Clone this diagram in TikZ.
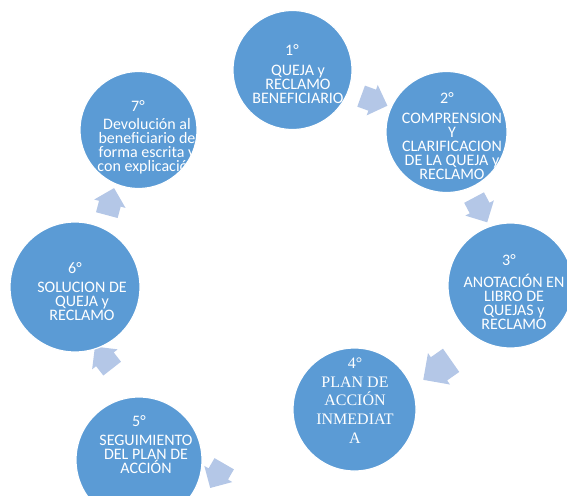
\documentclass[tikz,border=0pt]{standalone}
\usepackage{fontspec}
\setmainfont{Carlito}
\newfontfamily\timesfont{Liberation Serif}
\usetikzlibrary{shapes.arrows}
\definecolor{circblue}{HTML}{5B9BD5}
\definecolor{arrblue}{HTML}{B4C7E7}
\begin{document}
\begin{tikzpicture}[x=1pt,y=-1pt,
  stepcirc/.style={circle, fill=circblue, draw=white, line width=1.2pt, inner sep=0pt},
  cyclearrow/.style={single arrow, fill=arrblue, draw=none, inner sep=0pt,
    text height=22pt, text depth=0pt, text width=0pt,
    single arrow head extend=5pt, single arrow tip angle=90,
    minimum height=28pt},
  bigarrow/.style={text height=28pt, single arrow head extend=5pt, minimum height=34pt},
  steptitle/.style={text=white, font=\fontsize{16}{14}\selectfont, inner sep=0pt},
  stepbody/.style={text=white, font=\fontsize{16}{14}\selectfont, align=center, inner sep=0pt},
  timesbody/.style={text=white, font=\timesfont\fontsize{16}{18.7}\selectfont, align=center, inner sep=0pt},
]
\useasboundingbox (0,0) rectangle (567,495);
\clip (0,0) rectangle (567,495);

% arrows
\node[cyclearrow, rotate=-20] (a1) at (369,99) {};
\node[cyclearrow, rotate=-62] (a2) at (478,205) {};
\node[cyclearrow, bigarrow, rotate=215] (a3) at (443,366) {};
\node[cyclearrow, rotate=240] (a4) at (220,471) {};
\node[cyclearrow, rotate=128] (a5) at (107,362) {};
\node[cyclearrow, rotate=75] (a6) at (109,207) {};

% circles
\node[stepcirc, minimum size=119pt] (c1) at (292.5,70) {};
\node[stepcirc, minimum size=121pt] (c2) at (446.5,132) {};
\node[stepcirc, minimum size=125pt] (c3) at (510.5,285.5) {};
\node[stepcirc, minimum size=123pt] (c4) at (354.5,409.5) {};
\node[stepcirc, minimum size=126pt] (c5) at (139,460) {};
\node[stepcirc, minimum size=130pt] (c6) at (75,287) {};
\node[stepcirc, minimum size=117pt] (c7) at (138.5,130) {};

% texts
\begin{scope}
\clip (c1.center) circle[radius=59.5pt];
\node[steptitle] (t1) at (292,50) {1°};
\node[stepbody] (b1) at (298,84) {QUEJA y\\RECLAMO\\BENEFICIARIO};
\end{scope}
\begin{scope}
\clip (c2.center) circle[radius=60.5pt];
\node[steptitle] (t2) at (447,98) {2°};
\node[stepbody] (b2) at (452,146) {COMPRENSION\\Y\\CLARIFICACION\\DE LA QUEJA y\\RECLAMO};
\end{scope}
\begin{scope}
\clip (c3.center) circle[radius=62.5pt];
\node[steptitle] (t3) at (509,260) {3°};
\node[stepbody] (b3) at (514,302) {ANOTACIÓN EN\\LIBRO DE\\QUEJAS y\\RECLAMO};
\end{scope}
\begin{scope}
\clip (c4.center) circle[radius=61.5pt];
\node[steptitle, font=\timesfont\fontsize{16}{18.7}\selectfont] (t4) at (355,363) {4°};
\node[timesbody] (b4) at (355,410) {PLAN DE\\ACCIÓN\\INMEDIAT\\A};
\end{scope}
\begin{scope}
\clip (c5.center) circle[radius=63pt];
\node[steptitle] (t5) at (139,421) {5°};
\node[stepbody] (b5) at (146,454) {SEGUIMIENTO\\DEL PLAN DE\\ACCIÓN};
\end{scope}
\begin{scope}
\clip (c6.center) circle[radius=65pt];
\node[steptitle] (t6) at (75,268) {6°};
\node[stepbody] (b6) at (82,301) {SOLUCION DE\\QUEJA y\\RECLAMO};
\end{scope}
\begin{scope}
\clip (c7.center) circle[radius=58.5pt];
\node[steptitle] (t7) at (138,106) {7°};
\node[stepbody] (b7) at (147,146.5) {Devolución al\\beneficiario de\\forma escrita y\\con explicación};
\end{scope}
\end{tikzpicture}
\end{document}
